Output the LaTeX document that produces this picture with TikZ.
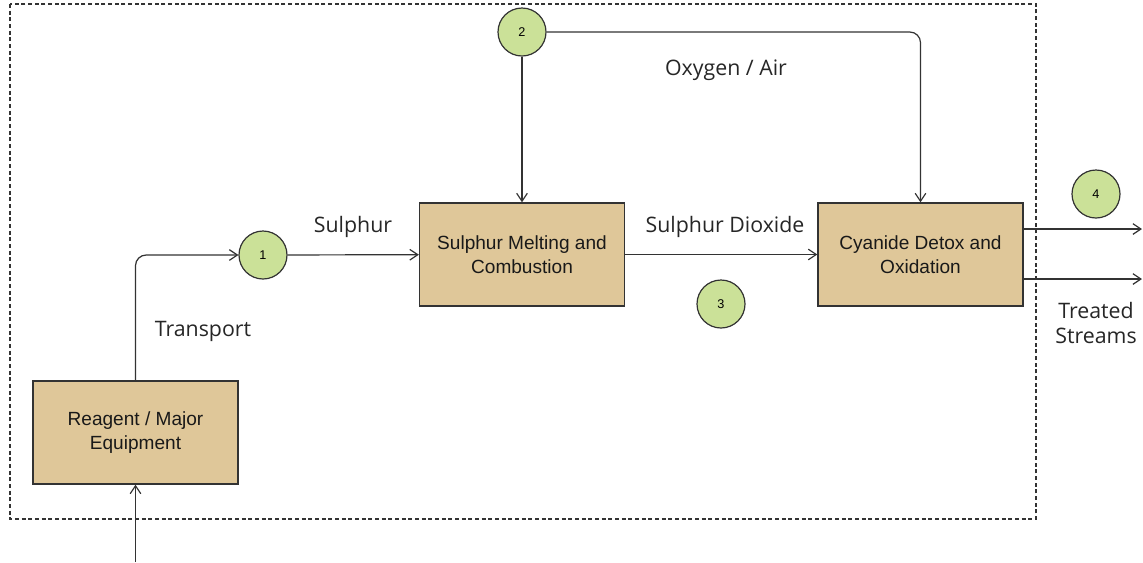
\documentclass[tikz,border=0pt]{standalone}
\usepackage{fontspec}
\setmainfont{Liberation Sans}
\newfontfamily\pflabelfont{Open Sans}
\usetikzlibrary{arrows.meta}
\definecolor{pftan}{RGB}{223,199,153}
\definecolor{pfgreen}{RGB}{203,225,152}
\definecolor{pfgray}{RGB}{51,51,51}
\tikzset{
  pfbox/.style={draw=pfgray, fill=pftan, line width=1pt, align=center, text=black!90,
    font=\fontsize{14.3}{18}\selectfont, minimum width=153.75pt, minimum height=77.25pt, inner sep=0pt},
  pfnum/.style={circle, draw=pfgray, fill=pfgreen, line width=0.9pt, minimum size=36pt,
    inner sep=0pt, font=\fontsize{9.5}{11}\selectfont},
  pflabel/.style={font=\pflabelfont\fontsize{16}{19}\selectfont, align=center, text=black!85},
  pfarrow/.style={-{Straight Barb[length=6pt,width=8pt]}, line width=0.9pt, draw=pfgray},
  pfframe/.style={draw=pfgray, line width=0.9pt, dash pattern=on 3pt off 2pt}
}
\begin{document}
\begin{tikzpicture}[x=0.75pt,y=-0.75pt]
  \useasboundingbox (0,0) rectangle (1143,562);
  \draw[pfframe] (10,4) rectangle (1036,519);
  \node[pfbox] (reag) at (135.5,432.5) {Reagent / Major\\Equipment};
  \node[pfbox] (melt) at (522,254.5) {Sulphur Melting and\\Combustion};
  \node[pfbox] (detox) at (920.5,254.5) {Cyanide Detox and\\Oxidation};
  \node[pfnum] (n1) at (263,255) {1};
  \node[pfnum] (n2) at (522,32) {2};
  \node[pfnum] (n3) at (721,304) {3};
  \node[pfnum] (n4) at (1096,194) {4};
  \node[pflabel] (lsul) at (353,227) {Sulphur};
  \node[pflabel] (ltra) at (203,331) {Transport};
  \node[pflabel] (loxy) at (726,70) {Oxygen / Air};
  \node[pflabel] (ldio) at (725,227) {Sulphur Dioxide};
  \node[pflabel] (ltrt) at (1096,323) {Treated\\Streams};
  \coordinate (in) at (135.5,562);
  \coordinate (out1) at (1142,229);
  \coordinate (out2) at (1142,279);
  \draw[pfarrow] (in) -- (reag.south);
  \draw[pfarrow, rounded corners=8pt] (reag.north) |- (n1.west);
  \draw[pfarrow] (n1) -- (melt);
  \draw[pfarrow] (n2) -- (melt);
  \draw[pfarrow, rounded corners=8pt] (n2.east) -| (detox.north);
  \draw[pfarrow] (melt) -- (detox);
  \draw[pfarrow] (detox.east |- out1) -- (out1);
  \draw[pfarrow] (detox.east |- out2) -- (out2);
\end{tikzpicture}
\end{document}
